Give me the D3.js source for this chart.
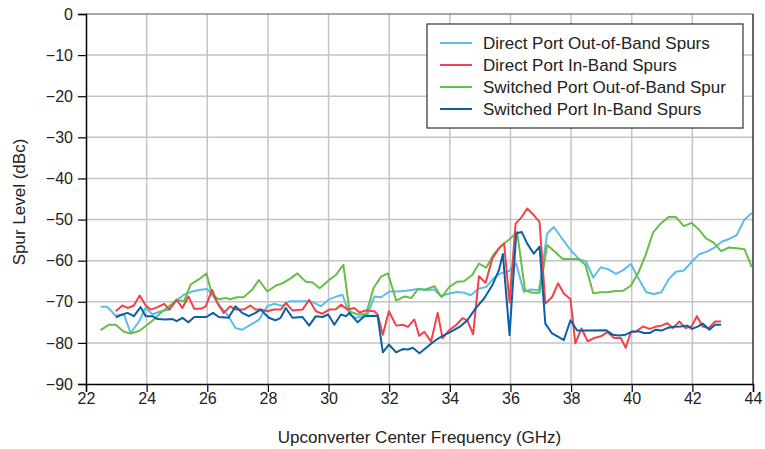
<!DOCTYPE html>
<html><head><meta charset="utf-8">
<script src="https://cdn.jsdelivr.net/npm/d3@7"></script>
<style>body{margin:0;background:#fff}svg{display:block;font-family:"Liberation Sans",Arial,sans-serif}</style>
</head><body><div id="c"></div>
<script>
const xTicks=[22,24,26,28,30,32,34,36,38,40,42,44];
const yTicks=[0,-10,-20,-30,-40,-50,-60,-70,-80,-90];
const seriesNames=["Direct Port Out-of-Band Spurs","Direct Port In-Band Spurs","Switched Port Out-of-Band Spur","Switched Port In-Band Spurs"];
const seriesColors=["#5bbdea","#ef4349","#68bd45","#0b5fa5"];
const directOut=[[22.48,-71.2],[22.7,-71.2],[22.98,-73.4],[23.25,-73],[23.47,-77.6],[23.75,-74.8],[23.97,-71.4],[24.19,-73.1],[24.46,-72.3],[24.74,-71.9],[25.01,-69.5],[25.23,-68.3],[25.5,-67.5],[25.78,-67.1],[26.0,-66.9],[26.16,-68.3],[26.43,-71.1],[26.7,-73.5],[26.93,-76.4],[27.15,-76.8],[27.42,-75.6],[27.7,-74.4],[27.98,-71.1],[28.2,-70.5],[28.48,-71],[28.7,-69.9],[29.03,-69.9],[29.3,-69.9],[29.52,-70.2],[29.75,-71.1],[30.02,-69.4],[30.27,-68.7],[30.46,-68.3],[30.69,-73.1],[30.91,-73.9],[31.13,-73.5],[31.29,-73.1],[31.51,-68.7],[31.73,-68.9],[32.01,-67.5],[32.29,-67.5],[32.56,-67.3],[32.78,-67.1],[33.0,-66.8],[33.21,-67.2],[33.49,-67.0],[33.7,-68.6],[33.98,-68.0],[34.25,-67.6],[34.47,-67.8],[34.69,-68.4],[34.96,-66.8],[35.2,-66.4],[35.46,-64.1],[35.68,-63.1],[35.95,-62.5],[36.19,-60.7],[36.44,-67.6],[36.66,-67.0],[36.94,-67.2],[37.21,-53.4],[37.43,-51.8],[37.7,-54.6],[37.98,-57.4],[38.27,-59.7],[38.49,-60.2],[38.73,-64.1],[38.98,-61.6],[39.23,-62.1],[39.48,-63.2],[39.72,-62.3],[39.97,-60.8],[40.22,-64.3],[40.48,-67.7],[40.73,-68.1],[40.98,-67.7],[41.22,-64.5],[41.46,-62.7],[41.72,-62.4],[41.99,-60.2],[42.23,-58.4],[42.48,-57.8],[42.73,-56.8],[42.97,-55.4],[43.19,-54.8],[43.46,-53.8],[43.72,-50.0],[43.96,-48.4]];
const directIn=[[22.98,-72.3],[23.2,-70.9],[23.37,-71.5],[23.58,-70.9],[23.77,-68.5],[23.97,-70.9],[24.14,-71.9],[24.36,-71.3],[24.58,-70.5],[24.75,-71.9],[24.99,-69.5],[25.18,-71.5],[25.38,-68.7],[25.57,-71.7],[25.79,-71.7],[25.95,-71.1],[26.16,-67.1],[26.33,-70.3],[26.54,-72.7],[26.76,-71.1],[26.93,-71.9],[27.2,-71.9],[27.42,-70.9],[27.59,-71.9],[27.76,-71.9],[27.98,-72.3],[28.2,-71.9],[28.42,-71.9],[28.59,-70.3],[28.81,-72.1],[29.14,-71.9],[29.36,-69.5],[29.58,-72.3],[29.8,-72.9],[30.02,-71.9],[30.24,-71.8],[30.41,-70.7],[30.63,-71.9],[30.85,-71.5],[31.02,-72.6],[31.24,-72.1],[31.51,-72.3],[31.62,-73.1],[31.79,-78.0],[31.99,-72.3],[32.23,-75.8],[32.45,-75.6],[32.62,-76.1],[32.83,-74.3],[32.99,-78.3],[33.16,-77.3],[33.38,-79.7],[33.6,-72.7],[33.76,-78.9],[33.98,-76.9],[34.2,-75.7],[34.42,-74.0],[34.58,-74.6],[34.77,-77.9],[34.96,-63.8],[35.18,-65.4],[35.4,-59.5],[35.62,-57.0],[35.79,-55.8],[35.97,-70.2],[36.17,-51.0],[36.37,-49.4],[36.55,-47.3],[36.77,-48.9],[36.96,-50.6],[37.15,-70.4],[37.37,-68.9],[37.57,-65.5],[37.76,-68.0],[37.98,-69.4],[38.14,-80.1],[38.34,-76.5],[38.55,-79.6],[38.77,-78.8],[38.98,-78.4],[39.2,-77.4],[39.42,-78.8],[39.64,-78.8],[39.8,-81.2],[39.97,-77.4],[40.15,-77.2],[40.37,-76.0],[40.59,-76.6],[40.81,-76.0],[40.98,-75.8],[41.17,-75.2],[41.36,-76.4],[41.57,-74.8],[41.77,-76.4],[41.97,-76.0],[42.15,-73.5],[42.34,-76.0],[42.54,-76.4],[42.75,-74.8],[42.95,-74.8]];
const switchedOut=[[22.48,-76.9],[22.75,-75.6],[22.98,-75.6],[23.25,-77.3],[23.47,-77.7],[23.75,-77.1],[23.97,-75.9],[24.24,-74.3],[24.46,-72.7],[24.74,-71.1],[24.99,-69.5],[25.23,-69.9],[25.45,-65.8],[25.73,-64.5],[25.97,-63.1],[26.16,-68.3],[26.38,-69.4],[26.6,-69.1],[26.76,-69.4],[26.98,-68.9],[27.2,-68.9],[27.48,-67.1],[27.7,-64.7],[27.98,-67.5],[28.25,-66.1],[28.48,-65.5],[28.75,-64.3],[28.97,-63.1],[29.25,-65.1],[29.47,-65.3],[29.71,-66.7],[30.02,-64.7],[30.24,-63.5],[30.49,-61.0],[30.69,-72.3],[30.96,-73.1],[31.24,-73.0],[31.48,-66.7],[31.73,-63.9],[31.96,-63.1],[32.23,-69.7],[32.51,-68.7],[32.73,-69.1],[32.94,-67.0],[33.21,-67.0],[33.49,-66.2],[33.73,-68.9],[33.98,-66.4],[34.25,-65.1],[34.47,-65.0],[34.74,-63.5],[34.96,-60.7],[35.2,-61.7],[35.46,-58.3],[35.73,-56.2],[36.0,-54.6],[36.22,-53.0],[36.48,-67.2],[36.72,-67.8],[36.96,-67.8],[37.21,-56.2],[37.48,-57.9],[37.72,-59.6],[37.98,-59.6],[38.25,-59.6],[38.47,-61.0],[38.73,-67.9],[38.98,-67.7],[39.23,-67.6],[39.48,-67.4],[39.72,-67.3],[39.97,-66.1],[40.22,-62.9],[40.46,-58.6],[40.7,-53.2],[40.95,-51.0],[41.22,-49.4],[41.46,-49.4],[41.72,-51.6],[41.97,-50.8],[42.21,-52.4],[42.45,-54.6],[42.7,-55.6],[42.95,-57.7],[43.21,-56.8],[43.46,-57.0],[43.72,-57.2],[43.96,-61.6]];
const switchedIn=[[22.98,-73.8],[23.2,-73.1],[23.37,-72.7],[23.58,-73.5],[23.8,-71.3],[23.97,-73.5],[24.19,-73.5],[24.36,-74.2],[24.63,-74.3],[24.85,-74.2],[24.99,-74.7],[25.18,-73.9],[25.38,-75.0],[25.57,-73.7],[25.79,-73.7],[25.97,-73.7],[26.19,-72.7],[26.38,-73.7],[26.7,-73.9],[26.93,-71.1],[27.15,-72.7],[27.37,-73.5],[27.59,-72.7],[27.76,-71.9],[28.03,-73.9],[28.25,-74.5],[28.42,-73.9],[28.59,-71.5],[28.81,-73.9],[29.14,-73.7],[29.36,-75.8],[29.58,-73.5],[29.8,-73.7],[29.99,-73.1],[30.19,-75.6],[30.41,-73.1],[30.57,-73.5],[30.69,-72.7],[30.96,-75.0],[31.18,-73.5],[31.51,-73.4],[31.62,-73.5],[31.79,-82.3],[31.99,-80.4],[32.23,-82.3],[32.45,-81.5],[32.62,-81.6],[32.78,-81.2],[33.0,-82.5],[33.27,-80.9],[33.54,-79.3],[33.76,-78.3],[34.03,-77.3],[34.36,-75.9],[34.58,-74.5],[34.85,-71.6],[35.13,-69.2],[35.4,-66.0],[35.62,-62.3],[35.75,-58.4],[35.97,-78.1],[36.19,-53.4],[36.37,-53.0],[36.55,-55.8],[36.77,-58.3],[36.96,-56.6],[37.15,-75.3],[37.37,-77.7],[37.57,-78.5],[37.76,-79.3],[37.98,-74.5],[38.2,-77.0],[38.58,-77.0],[39.15,-76.9],[39.37,-78.0],[39.58,-78.2],[39.8,-78.0],[40.02,-77.2],[40.24,-77.2],[40.4,-77.6],[40.59,-77.6],[40.79,-76.8],[40.98,-77.0],[41.17,-76.4],[41.39,-76.1],[41.61,-76.0],[41.83,-75.8],[41.99,-76.6],[42.19,-76.0],[42.34,-75.3],[42.56,-76.8],[42.75,-75.6],[42.95,-75.6]];
const allSeries=[directOut,directIn,switchedOut,switchedIn];
const drawOrder=[0,2,1,3];

const W=765,H=449,m={l:86,r:12,t:14,b:65};
const svg=d3.select("#c").append("svg").attr("width",W).attr("height",H);
const x=d3.scaleLinear().domain([22,44]).range([m.l,W-m.r]);
const y=d3.scaleLinear().domain([-90,0]).range([H-m.b,m.t]);

const g=svg.append("g");
g.selectAll(".vg").data(xTicks.slice(1,-1)).enter().append("line")
 .attr("x1",d=>x(d)).attr("x2",d=>x(d)).attr("y1",y(0)).attr("y2",y(-90))
 .attr("stroke","#c4c4c4").attr("stroke-width",1.5);
g.selectAll(".hg").data(yTicks.slice(1,-1)).enter().append("line")
 .attr("x1",x(22)).attr("x2",x(44)).attr("y1",d=>y(d)).attr("y2",d=>y(d))
 .attr("stroke","#c4c4c4").attr("stroke-width",1.5);
g.append("line").attr("x1",x(22)).attr("x2",x(44)).attr("y1",y(0)).attr("y2",y(0)).attr("stroke","#555").attr("stroke-width",1.2);
g.append("line").attr("x1",x(44)).attr("x2",x(44)).attr("y1",y(0)).attr("y2",y(-90)).attr("stroke","#333").attr("stroke-width",1.5);

const line=d3.line().x(d=>x(d[0])).y(d=>y(d[1]));
drawOrder.forEach(i=>{
 svg.append("path").datum(allSeries[i]).attr("d",line).attr("fill","none")
  .attr("stroke",seriesColors[i]).attr("stroke-width",2).attr("stroke-linejoin","round");
});

const xa=svg.append("g").attr("transform",`translate(0,${y(-90)})`)
 .call(d3.axisBottom(x).tickValues(xTicks).tickSize(8).tickPadding(1).tickFormat(d3.format("d")));
const ya=svg.append("g").attr("transform",`translate(${x(22)},0)`)
 .call(d3.axisLeft(y).tickValues(yTicks).tickSize(8).tickPadding(5).tickFormat(d=>d<0?"\u2212"+(-d):d));
[xa,ya].forEach(a=>{a.select(".domain").attr("stroke","#000").attr("stroke-width",1.5);
 a.selectAll(".tick line").attr("stroke","#000").attr("stroke-width",1.2);
 a.selectAll("text").attr("font-size",16).attr("fill","#222").attr("font-family","'Liberation Sans',Arial,sans-serif");});

svg.append("text").attr("x",(x(22)+x(44))/2-0).attr("y",443).attr("text-anchor","middle")
 .attr("font-size",17).attr("fill","#222").text("Upconverter Center Frequency (GHz)");
svg.append("text").attr("transform",`translate(25,${(y(0)+y(-90))/2+3}) rotate(-90)`).attr("text-anchor","middle")
 .attr("font-size",17).attr("fill","#222").text("Spur Level (dBc)");

const lg=svg.append("g");
lg.append("rect").attr("x",427).attr("y",24).attr("width",316).attr("height",104)
 .attr("fill","#fff").attr("stroke","#333").attr("stroke-width",1.2);
seriesNames.forEach((n,i)=>{
 const yy=43+i*22;
 lg.append("line").attr("x1",440).attr("x2",472).attr("y1",yy).attr("y2",yy).attr("stroke",seriesColors[i]).attr("stroke-width",2);
 lg.append("text").attr("x",483).attr("y",yy+6).attr("font-size",17).attr("fill","#222").text(n);
});
</script></body></html>
